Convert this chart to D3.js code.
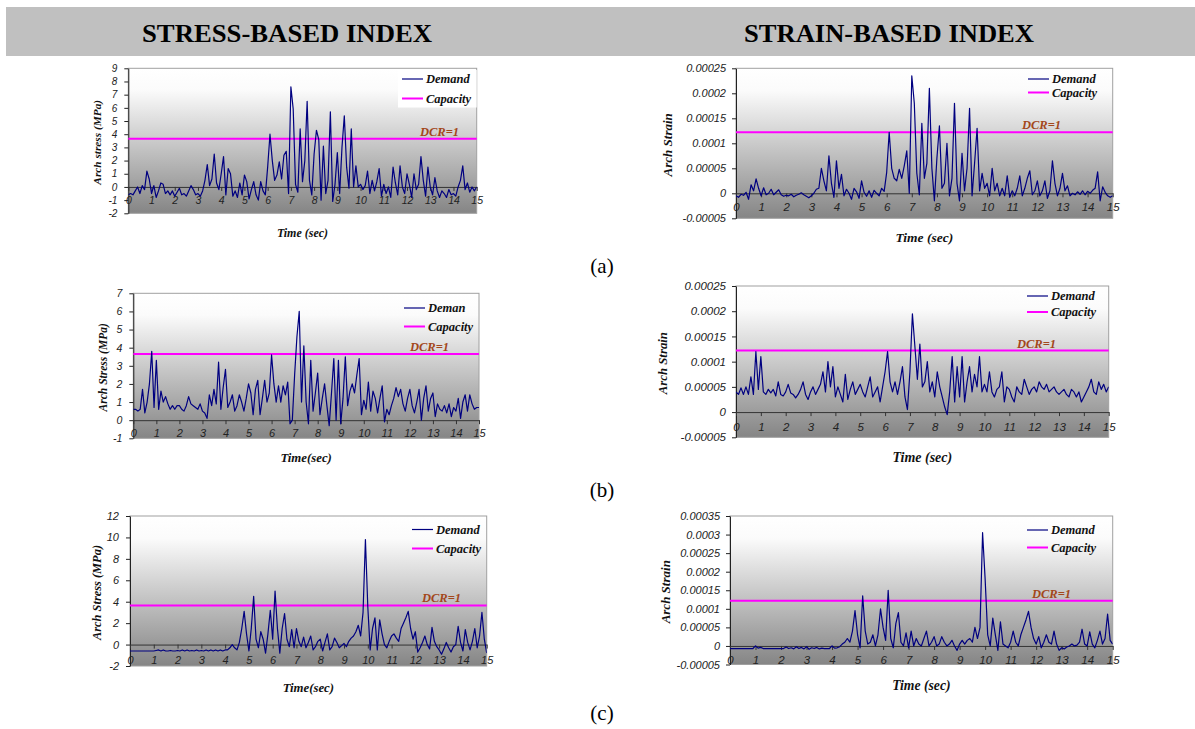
<!DOCTYPE html>
<html>
<head>
<meta charset="utf-8">
<script src="https://cdn.jsdelivr.net/npm/d3@7"></script>
<style>
body { margin: 0; background: #fff; }
svg { display: block; }
</style>
</head>
<body>
<script>
// records are sampled every DT seconds from t = 0 to 15
var DT = 0.1;
var timeTicks = [0,1,2,3,4,5,6,7,8,9,10,11,12,13,14,15];

// (a) stress in MPa
var stressA = [-0.6,-0.5,-0.6,-0.3,0.0,-0.5,0.1,-0.2,1.2,0.6,
  -0.5,0.1,-0.8,-0.3,0.3,0.2,-0.5,-0.3,-0.6,-0.3,
  -0.7,-0.4,-0.1,-0.6,-0.5,-0.7,-0.3,0.1,-0.2,-0.6,
  -0.5,-0.7,-0.3,0.5,1.7,0.1,0.6,2.5,0.3,-0.2,
  1.0,2.3,-0.6,1.4,1.0,-0.7,-0.3,-0.8,0.3,-0.6,
  0.9,0.4,-0.9,-0.2,0.4,-0.6,-1.0,0.4,-0.3,-0.6,
  1.5,4.0,2.0,0.5,0.9,1.9,0.6,2.4,2.7,-0.5,
  7.6,5.9,0.2,-0.4,4.4,0.4,2.0,6.5,0.5,-0.6,
  2.5,4.3,3.6,-1.0,3.1,-0.5,0.5,5.7,-1.1,0.2,
  2.6,-0.5,3.0,5.4,1.5,-0.1,4.4,0.0,1.6,0.0,
  0.2,-0.2,0.1,1.2,-0.5,0.5,-0.3,0.4,1.4,-0.7,
  0.2,-0.5,0.0,-0.8,1.5,0.3,-0.6,1.6,0.0,-0.5,
  1.0,0.2,-0.8,1.0,-0.2,0.2,2.3,0.5,-0.7,1.5,
  0.0,-0.6,0.7,-0.3,-0.8,-0.3,-0.5,-0.8,-0.2,-0.6,
  -0.5,-0.7,0.0,0.5,1.6,-0.2,0.3,-0.4,0.0,-0.3,
  0.0];

// (a) strain, in units of 1e-5
var strainA = [-0.5,-0.8,-0.2,-0.4,0.2,-1.2,1.7,0.5,2.9,1.0,
  -0.5,1.1,-0.3,0.0,0.8,-0.3,0.2,0.7,-0.3,-0.6,
  -0.4,-0.5,-0.2,-0.7,-0.4,-0.2,0.1,-0.3,-0.6,-0.9,
  -0.5,0.0,0.8,1.0,5.0,2.5,0.5,7.5,2.0,-0.8,
  6.5,1.0,3.8,-0.5,0.8,0.0,-1.2,1.0,0.3,-1.0,
  2.5,0.2,-0.6,0.5,-0.8,0.6,0.0,-0.5,1.0,0.4,
  4.2,12.2,5.0,3.0,2.5,4.8,3.0,5.5,8.5,0.0,
  23.5,18.0,4.0,-0.3,14.0,3.0,6.0,21.0,5.0,-1.5,
  7.0,13.5,1.0,2.0,10.0,-0.5,3.0,18.0,2.0,-1.5,
  8.0,0.5,5.0,17.0,-0.5,6.0,13.0,0.5,4.0,1.0,
  2.0,-0.5,5.0,0.5,2.0,-0.5,1.0,-0.5,3.5,-0.8,
  0.5,-0.5,1.0,3.5,-0.5,1.0,3.0,4.5,-0.3,0.5,
  2.5,-0.5,0.5,2.5,-1.0,0.5,6.5,2.0,-0.5,1.0,
  4.0,0.5,1.5,-0.5,0.0,-0.3,0.3,-0.2,0.5,-0.3,
  0.4,0.0,0.6,1.0,4.3,-1.5,1.3,0.2,-0.5,-0.8,
  -0.5];

// (b) stress in MPa
var stressB = [0.6,0.6,0.5,0.6,1.7,0.4,1.0,2.0,3.8,0.7,
  3.3,0.6,1.6,1.0,1.3,0.9,0.6,0.8,0.6,0.8,
  0.8,0.6,0.5,0.8,1.3,0.9,0.8,0.7,0.6,0.9,
  0.5,0.4,0.1,1.4,0.8,1.7,0.9,3.2,0.6,1.8,
  2.8,0.7,1.0,1.4,0.5,0.8,1.4,1.0,0.5,1.2,
  2.0,1.5,0.3,1.7,2.2,0.3,1.2,2.2,1.0,1.5,
  3.6,2.0,1.0,1.9,1.0,1.9,1.4,2.1,-0.2,0.0,
  2.5,4.6,6.0,1.0,4.1,1.0,-0.2,3.3,0.5,1.5,
  2.6,0.3,1.2,2.0,0.8,-0.3,1.5,3.4,0.0,3.3,
  -0.2,1.2,3.5,0.8,1.6,2.0,1.5,2.5,3.4,0.3,
  1.1,0.6,2.1,0.5,1.6,1.2,0.4,1.2,1.9,-0.1,
  0.6,0.3,0.8,1.2,1.8,1.3,1.7,0.9,0.5,1.2,
  1.7,0.8,0.4,1.0,1.7,0.0,1.2,1.9,0.5,1.2,
  1.5,0.2,0.9,0.6,0.5,0.8,0.4,0.9,0.2,0.7,
  0.5,1.2,0.1,1.0,1.4,0.5,1.4,0.9,0.6,0.7,
  0.7];

// (b) strain, in units of 1e-5
var strainB = [4.0,3.5,4.8,3.5,5.0,3.5,7.0,3.5,12.0,4.5,
  11.0,4.0,3.5,4.5,3.8,4.5,3.2,6.0,3.5,3.2,
  4.0,5.5,3.8,3.5,2.8,3.5,4.5,6.0,3.5,2.5,
  4.0,5.0,3.5,4.5,5.5,8.0,4.0,10.0,5.0,9.0,
  3.0,5.0,3.5,2.0,7.5,2.5,4.5,6.0,3.5,4.5,
  5.5,4.0,3.0,5.0,7.0,3.0,4.0,5.0,2.0,5.0,
  8.0,12.0,6.0,4.0,6.0,3.5,6.0,9.0,3.0,0.5,
  8.0,19.5,13.0,6.5,13.5,5.0,6.0,10.0,4.0,6.0,
  3.0,8.0,5.0,3.0,1.0,-0.5,4.0,11.0,2.0,9.0,
  3.0,11.0,2.0,6.0,9.0,4.0,7.5,5.0,11.0,4.0,
  5.5,4.0,8.0,4.0,3.0,4.5,5.0,8.0,2.0,5.0,
  4.5,3.0,2.0,5.0,4.0,3.5,6.5,5.0,3.5,4.5,
  5.0,4.0,6.0,5.0,4.5,5.5,4.0,4.5,5.0,4.0,
  3.5,4.0,4.5,3.5,3.0,4.5,4.0,3.0,4.0,2.0,
  3.0,4.0,5.0,6.5,4.0,3.5,6.0,4.5,5.5,4.0,
  5.0];

// (c) stress in MPa
var stressC = [-0.6,-0.6,-0.6,-0.6,-0.6,-0.6,-0.6,-0.6,-0.6,-0.6,
  -0.6,-0.55,-0.5,-0.6,-0.5,-0.6,-0.6,-0.55,-0.6,-0.6,
  -0.55,-0.6,-0.5,-0.6,-0.5,-0.6,-0.55,-0.6,-0.5,-0.6,
  -0.55,-0.6,-0.5,-0.6,-0.5,-0.6,-0.5,-0.6,-0.5,-0.6,
  -0.5,-0.5,-0.3,0.0,-0.3,-0.5,0.2,1.5,3.1,1.0,
  -0.6,1.5,4.5,0.5,-0.3,1.2,0.5,-0.8,1.0,3.2,
  0.5,5.0,1.5,-0.8,1.5,2.9,0.5,-0.2,1.4,-0.3,
  1.5,0.3,-0.2,0.7,-0.3,0.2,0.8,-0.5,-0.2,0.3,
  0.5,-0.6,0.2,1.0,-0.5,-0.2,0.6,0.2,-0.3,-0.1,
  0.1,-0.2,0.3,0.6,0.8,1.2,1.8,0.8,3.0,9.8,
  3.5,-0.5,1.5,2.5,-0.5,2.3,1.0,0.0,-0.3,0.3,
  0.8,1.0,0.6,0.3,1.5,2.0,2.5,3.1,1.5,0.5,
  1.2,-0.7,-0.3,0.2,0.8,0.0,-0.4,1.6,0.3,-0.2,
  -0.5,-0.9,-0.4,0.2,-0.3,-0.7,-0.2,0.0,1.7,0.2,
  -0.6,1.4,0.2,-0.5,0.3,1.5,-0.3,0.8,3.0,0.5,
  -0.8];

// (c) strain, in units of 1e-5
var strainC = [-0.7,-0.7,-0.7,-0.7,-0.7,-0.7,-0.7,-0.7,-0.7,-0.7,
  0.0,-0.6,-0.4,-0.7,-0.7,-0.7,-0.7,-0.7,-0.7,-0.7,
  -0.7,-0.7,-0.3,-0.7,-0.5,-0.8,-0.2,-0.7,-0.4,-0.8,
  -0.2,-0.9,-0.5,-0.7,-0.4,-0.8,-0.6,-0.7,-0.7,-0.7,
  0.0,-0.6,-0.5,-0.2,0.5,1.0,2.0,1.0,4.0,9.5,
  3.0,-0.5,13.5,4.0,0.5,1.0,3.0,0.0,3.0,10.0,
  5.0,1.5,15.0,2.0,-0.5,6.0,9.0,1.0,0.0,3.5,
  -0.5,4.0,0.0,2.0,0.5,0.0,2.0,4.0,0.0,1.0,
  2.5,0.0,0.5,2.5,1.0,0.0,0.5,1.5,0.0,-1.2,
  0.5,1.5,0.5,1.5,2.0,1.0,5.0,2.0,5.0,30.5,
  18.0,3.0,0.0,7.5,3.0,-1.2,6.5,0.5,0.0,-0.5,
  1.0,4.0,1.0,0.0,3.0,5.0,7.0,9.3,5.0,2.0,
  0.5,2.5,-0.5,1.0,3.0,1.0,0.5,4.0,0.5,-1.2,
  -0.5,-0.8,-0.3,0.0,0.5,0.0,0.2,1.0,4.5,0.5,
  0.0,3.8,0.5,-0.5,1.5,4.0,0.5,2.0,8.6,1.5,
  0.5];

var stressTicksA = [-2,-1,0,1,2,3,4,5,6,7,8,9];
var stressTicksB = [-1,0,1,2,3,4,5,6,7];
var stressTicksC = [-2,0,2,4,6,8,10,12];
var strainTicksAB = [-5,0,5,10,15,20,25];
var strainLabelsAB = ["-0.00005","0","0.00005","0.0001","0.00015","0.0002","0.00025"];
var strainTicksC = [-5,0,5,10,15,20,25,30,35];
var strainLabelsC = ["-0.00005","0","0.00005","0.0001","0.00015","0.0002","0.00025","0.0003","0.00035"];

var stressCapacity = 3.65;   // MPa
var strainCapacity = 12.2;   // 1e-5

var width = 1195, height = 729;
var serif = "'Liberation Serif', 'Times New Roman', serif";
var sans = "'Liberation Sans', Arial, sans-serif";

var svg = d3.select("body").append("svg")
    .attr("width", width)
    .attr("height", height);

var defs = svg.append("defs");
var grad = defs.append("linearGradient")
    .attr("id", "plotbg")
    .attr("x1", 0).attr("y1", 0).attr("x2", 0).attr("y2", 1);
grad.append("stop").attr("offset", "0%").attr("stop-color", "#ffffff");
grad.append("stop").attr("offset", "15%").attr("stop-color", "#fbfbfb");
grad.append("stop").attr("offset", "100%").attr("stop-color", "#858585");

// header band
svg.append("rect")
    .attr("x", 6).attr("y", 7)
    .attr("width", width - 6).attr("height", 49)
    .attr("fill", "#c0c0c0");

[["STRESS-BASED INDEX", 287], ["STRAIN-BASED INDEX", 889]].forEach(function(h){
  svg.append("text")
    .attr("x", h[1]).attr("y", 42)
    .attr("text-anchor", "middle")
    .attr("textLength", 290)
    .attr("lengthAdjust", "spacingAndGlyphs")
    .style("font-family", serif)
    .style("font-weight", "bold")
    .style("font-size", "25px")
    .text(h[0]);
});

[["(a)", 273], ["(b)", 497], ["(c)", 720]].forEach(function(s){
  svg.append("text")
    .attr("x", 602).attr("y", s[1])
    .attr("text-anchor", "middle")
    .style("font-family", serif)
    .style("font-size", "21px")
    .text(s[0]);
});

var panelId = 0;

var drawPanel = function(p){
  panelId++;
  var x = d3.scaleLinear().domain([0, 15]).range([p.x0, p.x1]);
  var y = d3.scaleLinear().domain(p.domain).range([p.y1, p.y0]);
  var g = svg.append("g");

  g.append("rect")
    .attr("x", p.x0).attr("y", p.y0)
    .attr("width", p.x1 - p.x0).attr("height", p.y1 - p.y0)
    .attr("fill", "url(#plotbg)")
    .attr("stroke", "#a0a0a0")
    .attr("stroke-width", 1);

  defs.append("clipPath").attr("id", "clip" + panelId)
    .append("rect")
    .attr("x", p.x0).attr("y", p.y0)
    .attr("width", p.x1 - p.x0).attr("height", p.y1 - p.y0);

  // y axis
  var yAxis = d3.axisLeft(y)
    .tickValues(p.ticks)
    .tickSizeInner(4).tickSizeOuter(0)
    .tickPadding(p.yPad)
    .tickFormat(function(d, i){ return p.labels ? p.labels[i] : d; });
  var ya = g.append("g").attr("transform", "translate(" + p.x0 + ",0)").call(yAxis);
  ya.select(".domain").attr("stroke", "#222");
  ya.selectAll(".tick line").attr("stroke", "#222");
  ya.selectAll("text")
    .attr("fill", "#222")
    .style("font-family", sans)
    .style("font-style", "italic")
    .style("font-size", p.yFont + "px");

  // zero line with time ticks
  var xAxis = d3.axisBottom(x)
    .tickValues(timeTicks)
    .tickSizeInner(4).tickSizeOuter(0)
    .tickPadding(p.xPad);
  var xa = g.append("g").attr("transform", "translate(0," + y(0) + ")").call(xAxis);
  xa.select(".domain").attr("stroke", "#333");
  xa.selectAll(".tick line").attr("stroke", "#333");
  xa.selectAll("text")
    .attr("fill", "#222")
    .style("font-family", sans)
    .style("font-style", "italic")
    .style("font-size", p.xFont + "px");

  // capacity
  g.append("line")
    .attr("x1", x(0)).attr("x2", x(15))
    .attr("y1", y(p.capacity)).attr("y2", y(p.capacity))
    .attr("stroke", "#ff00ff")
    .attr("stroke-width", 2);

  // demand
  var line = d3.line()
    .x(function(d, i){ return x(i * DT); })
    .y(function(d){ return y(d); });
  g.append("path")
    .datum(p.values)
    .attr("clip-path", "url(#clip" + panelId + ")")
    .attr("d", line)
    .attr("fill", "none")
    .attr("stroke", "#000080")
    .attr("stroke-width", 1.2)
    .attr("stroke-linejoin", "round");

  g.append("text")
    .attr("x", p.dcrX).attr("y", y(p.capacity) - 3)
    .attr("fill", "#a3471b")
    .style("font-family", serif)
    .style("font-weight", "bold")
    .style("font-style", "italic")
    .style("font-size", "12.5px")
    .text("DCR=1");

  // legend
  if (p.legendBox) {
    g.append("rect")
      .attr("x", p.legendX - 4).attr("y", p.legendY1 - 13)
      .attr("width", p.x1 - p.legendX + 4).attr("height", p.legendY2 - p.legendY1 + 18)
      .attr("fill", "#fff");
  }
  [[p.demandName, "#000080", 1.2, p.legendY1], ["Capacity", "#ff00ff", 2, p.legendY2]].forEach(function(l){
    g.append("line")
      .attr("x1", p.legendX).attr("x2", p.legendX + 21)
      .attr("y1", l[3] - 4).attr("y2", l[3] - 4)
      .attr("stroke", l[1]).attr("stroke-width", l[2]);
    g.append("text")
      .attr("x", p.legendX + 24).attr("y", l[3])
      .attr("fill", "#111")
      .style("font-family", serif)
      .style("font-weight", "bold")
      .style("font-style", "italic")
      .style("font-size", "12.5px")
      .text(l[0]);
  });

  // axis titles
  var cy = (p.y0 + p.y1) / 2 + 1.5;
  g.append("text")
    .attr("transform", "translate(" + p.yLabX + "," + cy + ") rotate(-90)")
    .attr("dy", "0.35em")
    .attr("text-anchor", "middle")
    .attr("fill", "#111")
    .style("font-family", serif)
    .style("font-weight", "bold")
    .style("font-style", "italic")
    .style("font-size", p.yLabSize + "px")
    .text(p.yLabel);

  g.append("text")
    .attr("x", (p.x0 + p.x1) / 2).attr("y", p.xLabY)
    .attr("text-anchor", "middle")
    .attr("fill", "#111")
    .style("font-family", serif)
    .style("font-weight", "bold")
    .style("font-style", "italic")
    .style("font-size", p.xLabSize + "px")
    .text(p.xLabel);
};

drawPanel({x0: 128.3, x1: 476.7, y0: 68.3, y1: 213.3, domain: [-2, 9],
  ticks: stressTicksA, values: stressA, capacity: stressCapacity,
  yFont: 10, yPad: 7, xFont: 10.5, xPad: 6,
  dcrX: 420, legendX: 402, legendY1: 83, legendY2: 102.5, legendBox: true, demandName: "Demand",
  yLabel: "Arch stress (MPa)", yLabX: 97, yLabSize: 11.3,
  xLabel: "Time (sec)", xLabY: 237, xLabSize: 12});

drawPanel({x0: 736, x1: 1112.7, y0: 68.3, y1: 218.3, domain: [-5, 25],
  ticks: strainTicksAB, labels: strainLabelsAB, values: strainA, capacity: strainCapacity,
  yFont: 11, yPad: 6, xFont: 11.5, xPad: 6,
  dcrX: 1022, legendX: 1028, legendY1: 83, legendY2: 96.5, demandName: "Demand",
  yLabel: "Arch Strain", yLabX: 667, yLabSize: 13,
  xLabel: "Time (sec)", xLabY: 242, xLabSize: 13.5});

drawPanel({x0: 133.3, x1: 479, y0: 293.3, y1: 438.3, domain: [-1, 7],
  ticks: stressTicksB, values: stressB, capacity: stressCapacity,
  yFont: 10.5, yPad: 7, xFont: 11, xPad: 5,
  dcrX: 410, legendX: 404, legendY1: 312, legendY2: 330.5, demandName: "Deman",
  yLabel: "Arch Stress (MPa)", yLabX: 103, yLabSize: 11.5,
  xLabel: "Time(sec)", xLabY: 462, xLabSize: 12.8});

drawPanel({x0: 736, x1: 1108.7, y0: 286, y1: 437.3, domain: [-5, 25],
  ticks: strainTicksAB, labels: strainLabelsAB, values: strainB, capacity: strainCapacity,
  yFont: 11.5, yPad: 6, xFont: 11.5, xPad: 7,
  dcrX: 1017, legendX: 1027, legendY1: 300, legendY2: 316, demandName: "Demand",
  yLabel: "Arch Strain", yLabX: 663, yLabSize: 12.8,
  xLabel: "Time (sec)", xLabY: 462, xLabSize: 14});

drawPanel({x0: 130, x1: 486.7, y0: 516, y1: 666, domain: [-2, 12],
  ticks: stressTicksC, values: stressC, capacity: stressCapacity,
  yFont: 11, yPad: 7, xFont: 11, xPad: 8,
  dcrX: 422, legendX: 412, legendY1: 533.5, legendY2: 552.5, demandName: "Demand",
  yLabel: "Arch Stress (MPa)", yLabX: 97, yLabSize: 12.4,
  xLabel: "Time(sec)", xLabY: 692, xLabSize: 12.8});

drawPanel({x0: 730, x1: 1112.7, y0: 516, y1: 664.5, domain: [-5, 35],
  ticks: strainTicksC, labels: strainLabelsC, values: strainC, capacity: strainCapacity,
  yFont: 11, yPad: 6, xFont: 11.5, xPad: 6,
  dcrX: 1032, legendX: 1027, legendY1: 534, legendY2: 551.5, demandName: "Demand",
  yLabel: "Arch Strain", yLabX: 665, yLabSize: 13,
  xLabel: "Time (sec)", xLabY: 690, xLabSize: 13.7});
</script>
</body>
</html>
